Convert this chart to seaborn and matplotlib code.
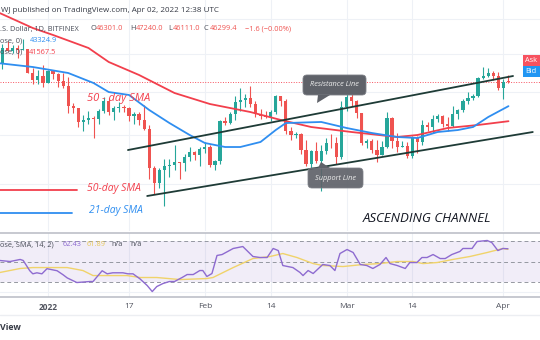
import numpy as np
import pandas as pd
import matplotlib
matplotlib.use("Agg")
import matplotlib.pyplot as plt
import seaborn as sns
from matplotlib.patches import FancyBboxPatch, Polygon, Rectangle

# ---------------- data (day 0 = 2022-01-01; Dec 22 = -10 ... Apr 2 = 91) ----------------
days = list(range(-10, 92))
opens = [48.9, 48.6, 50.8, 50.4, 50.8, 50.6, 50.7, 47.5, 46.5, 47.1,
         46.2, 47.7, 47.3, 46.4, 45.8, 43.4, 43.1, 41.5, 41.7, 41.9,
         41.8, 42.7, 43.9, 42.6, 43.1, 43.2, 43.1, 42.2, 42.4, 41.7,
         40.7, 36.5, 35.1, 36.3, 36.7, 36.9, 37.2, 37.1, 37.7, 38.2,
         37.9, 38.5, 38.7, 36.9, 37.3, 41.6, 41.4, 42.4, 43.8, 44.1,
         44.3, 43.6, 42.4, 42.2, 42.1, 42.6, 44.6, 43.9, 40.5, 40.0,
         40.1, 38.4, 37.0, 38.3, 37.3, 38.3, 39.2, 39.1, 37.7, 43.2,
         44.4, 43.9, 42.5, 39.1, 39.4, 38.4, 37.9, 38.7, 41.9, 39.4,
         38.7, 38.8, 37.8, 39.7, 39.3, 41.1, 40.9, 41.8, 42.2, 41.3,
         41.0, 42.4, 42.9, 44.0, 44.3, 44.5, 46.8, 47.1, 47.4, 47.1,
         45.5, 46.301]
highs = [49.6, 51.4, 51.8, 51.2, 51.3, 52.1, 50.7, 48.1, 47.9, 48.5,
         47.9, 47.9, 47.5, 47.5, 47.0, 43.7, 43.1, 42.3, 42.8, 42.2,
         43.0, 44.4, 44.3, 43.4, 43.8, 43.5, 43.2, 42.6, 42.6, 43.5,
         41.1, 36.8, 36.5, 37.5, 37.5, 38.9, 37.2, 38.0, 38.7, 38.3,
         38.7, 39.3, 38.9, 37.4, 41.7, 42.0, 42.6, 44.5, 45.5, 44.8,
         45.8, 43.9, 43.0, 42.7, 42.9, 44.7, 44.6, 44.2, 40.9, 40.4,
         40.2, 39.5, 38.4, 39.3, 38.9, 39.7, 40.1, 39.8, 44.0, 44.9,
         45.4, 44.1, 42.5, 39.6, 39.6, 39.5, 39.4, 42.6, 42.0, 40.2,
         39.4, 39.3, 39.9, 39.9, 41.7, 41.5, 42.3, 42.4, 42.3, 42.0,
         43.4, 43.0, 44.2, 45.1, 44.8, 46.9, 48.2, 48.1, 47.7, 47.6,
         46.7, 47.24]
lows = [48.4, 48.0, 50.4, 50.2, 49.5, 50.5, 47.4, 46.1, 46.0, 45.7,
        46.2, 46.7, 45.7, 45.5, 42.5, 42.5, 40.9, 40.5, 41.2, 39.7,
        41.3, 42.5, 42.3, 41.7, 42.6, 42.6, 41.6, 41.3, 41.1, 40.6,
        35.5, 34.0, 34.6, 32.95, 35.7, 36.3, 35.5, 36.2, 37.3, 37.4,
        36.7, 38.1, 36.6, 36.3, 37.0, 41.1, 41.2, 41.7, 42.7, 43.2,
        43.2, 42.0, 41.8, 41.9, 41.6, 42.4, 43.3, 40.1, 39.5, 39.7,
        38.0, 36.8, 36.4, 37.1, 34.3, 38.0, 38.6, 37.0, 37.5, 42.8,
        43.4, 41.9, 38.9, 38.6, 38.1, 37.2, 37.9, 38.6, 38.6, 38.2,
        38.7, 37.6, 37.6, 38.1, 38.9, 40.5, 40.2, 41.5, 40.9, 40.5,
        40.9, 41.8, 42.6, 43.6, 44.1, 44.4, 46.7, 46.9, 46.6, 45.3,
        44.2, 46.111]
closes = [48.6, 50.8, 50.4, 50.8, 50.6, 50.7, 47.5, 46.5, 47.1, 46.2,
          47.7, 47.3, 46.4, 45.8, 43.4, 43.1, 41.5, 41.7, 41.9, 41.8,
          42.7, 43.9, 42.6, 43.1, 43.2, 43.1, 42.2, 42.4, 41.7, 40.7,
          36.5, 35.1, 36.3, 36.7, 36.9, 37.2, 37.1, 37.7, 38.2, 37.9,
          38.5, 38.7, 36.9, 37.3, 41.6, 41.4, 42.4, 43.8, 44.1, 44.3,
          43.6, 42.4, 42.2, 42.1, 42.6, 44.6, 43.9, 40.5, 40.0, 40.1,
          38.4, 37.0, 38.3, 37.3, 38.3, 39.2, 39.1, 37.7, 43.2, 44.4,
          43.9, 42.5, 39.1, 39.4, 38.4, 37.9, 38.7, 41.9, 39.4, 38.7,
          38.8, 37.8, 39.7, 39.3, 41.1, 40.9, 41.8, 42.2, 41.3, 41.0,
          42.4, 42.9, 44.0, 44.3, 44.5, 46.8, 47.1, 47.4, 47.1, 45.5,
          46.3, 46.2994]

sma50_days = [-10, -3, 1, 8, 12, 18, 25, 32, 40, 46, 52, 60, 69, 73, 79, 85, 91]
sma50_vals = [56130, 53710, 52690, 50840, 48920, 47200, 44920, 43580, 42630,
              41710, 40910, 40350, 39800, 40020, 40800, 41140, 41567.5]
sma21_days = [-10, -3, 4, 9, 12, 16, 20, 24, 28, 31, 35, 38, 42, 45, 47, 54,
              59, 64, 69, 73, 77, 81, 84, 87, 91]
sma21_vals = [48780, 48250, 47460, 46170, 45040, 44680, 42870, 41360, 40020,
              39150, 38720, 38720, 39260, 40570, 41360, 41480, 40800, 40240,
              39800, 39690, 40350, 40570, 40910, 42050, 43324.9]

res_days = [15.8, 91.9]
res_prices = [38400, 47070]
sup_days = [19.6, 95.8]
sup_prices = [33840, 40350]
last_price = 46299.4

rsi_days = [-9.5, -7.5, -5.5, -4.9, -3.6, -3.0, -2.2, -1.2, -0.2, 1.8, 3.0, 3.8,
            5.7, 8.3, 8.9, 10.7, 11.7, 12.8, 14.8, 15.8, 16.8, 18.2, 19.6, 20.6,
            21.5, 22.7, 24.0, 25.0, 26.5, 27.5, 28.7, 30.0, 30.6, 31.4, 32.4,
            33.4, 34.4, 36.6, 38.5, 40.5, 41.9, 43.3, 44.5, 45.5, 46.4, 48.4,
            49.8, 50.4, 51.4, 52.4, 54.3, 55.7, 56.7, 57.7, 59.1, 60.3, 61.7,
            63.0, 64.2, 65.6, 66.8, 67.6, 69.0, 70.6, 71.5, 72.9, 73.9, 74.9,
            76.1, 77.5, 78.5, 79.8, 81.4, 82.0, 83.8, 84.8, 86.8, 87.7, 88.9,
            89.9, 90.9]
rsi_vals = [51, 50, 52, 51, 41, 38, 39, 38, 43, 41, 37, 34,
            29.5, 30.5, 30.5, 41, 38, 39, 39, 38, 38, 33, 26.6, 20.7,
            25.6, 28.5, 30.5, 30.5, 34.4, 37.3, 37.3, 41.2, 41.2, 35.4, 38.3,
            55.9, 56.8, 62.7, 64.6, 54.9, 53.9, 53.9, 62.7, 60.7, 46.1, 44.1,
            39.3, 36.3, 41.2, 38.3, 47.1, 46.1, 41.2, 57.8, 61.7, 58.8, 47.1,
            46.1, 43.2, 47.1, 53.9, 48.0, 46.1, 43.2, 49.0, 49.0, 53.9, 53.9,
            56.8, 52.9, 52.9, 56.8, 59.8, 62.7, 62.7, 69.5, 70.5, 68.5, 60.7,
            62.7, 62.43]
rsi_sma_days = [-9.5, -5.5, -3.0, 0.4, 3.8, 6.9, 8.9, 11.7, 15.6, 18.2, 21.5,
                26.1, 31.4, 32.6, 36.6, 40.5, 43.9, 46.4, 49.2, 52.4, 54.3, 58.3,
                62.3, 65.6, 69.0, 72.1, 74.1, 76.9, 80.0, 83.4, 86.8, 89.9, 90.9]
rsi_sma_vals = [39.3, 43.2, 44.1, 44.1, 44.1, 41.2, 36.3, 36.3, 36.3, 34.4, 34.4,
                32.4, 33.4, 34.4, 44.1, 52.9, 54.9, 57.8, 53.9, 48.0, 46.1, 45.1,
                47.1, 48.0, 50.0, 50.0, 48.0, 49.0, 52.0, 54.9, 58.8, 62.7, 61.89]

tick_days = [0, 16, 31, 44, 59, 72, 90]
tick_labels = ["2022", "17", "Feb", "14", "Mar", "14", "Apr"]
grid_prices = [55000, 50000, 45000, 40000, 35000]

# ---------------- styling ----------------
sns.set_theme(style="white")
plt.rcParams["font.family"] = ["Open Sans", "DejaVu Sans"]

GREEN = "#26a69a"
RED = "#ef5350"
SMA_RED = "#f23f4c"
SMA_BLUE = "#2f8ef0"
CHAN = "#1e3b36"
GRID = "#eef1f6"

W, H = 540, 340
fig = plt.figure(figsize=(5.4, 3.4), dpi=100)
fig.patch.set_facecolor("white")


def rect(x0, y0, x1, y1):
    return [x0 / W, 1 - y1 / H, (x1 - x0) / W, (y1 - y0) / H]


XLIM = (-9.486, 97.23)

# ---------------- main price pane ----------------
ax = fig.add_axes(rect(0, 0, 540, 231))
ax.set_yscale("log")
ax.set_xlim(*XLIM)
ax.set_ylim(30734, 58013)
ax.set_xticks(tick_days)
ax.set_yticks(grid_prices)
ax.yaxis.set_minor_locator(matplotlib.ticker.NullLocator())
ax.tick_params(length=0, labelleft=False, labelbottom=False)
ax.grid(True, color=GRID, lw=0.8)
for s in ax.spines.values():
    s.set_visible(False)

o = np.array(opens) * 1000
h = np.array(highs) * 1000
l = np.array(lows) * 1000
c = np.array(closes) * 1000
d = np.array(days)
cols = np.where(c >= o, GREEN, RED)
ax.vlines(d, l, h, colors=cols, lw=0.8, zorder=3)
bottoms = np.minimum(o, c)
heights = np.maximum(np.abs(c - o), bottoms * 0.002)
ax.bar(d, heights, bottom=bottoms, width=0.64, color=cols, lw=0, zorder=3)

ax.axhline(last_price, color="#f7525f", lw=0.7, ls=(0, (1, 1.6)), zorder=2)

sns.lineplot(x=sma50_days, y=sma50_vals, ax=ax, color=SMA_RED, lw=1.3, sort=False, zorder=4)
sns.lineplot(x=sma21_days, y=sma21_vals, ax=ax, color=SMA_BLUE, lw=1.3, sort=False, zorder=4)
sns.lineplot(x=res_days, y=res_prices, ax=ax, color=CHAN, lw=1.3, sort=False, zorder=5)
sns.lineplot(x=sup_days, y=sup_prices, ax=ax, color=CHAN, lw=1.3, sort=False, zorder=5)
ax.set_xlabel("")
ax.set_ylabel("")

# ---------------- RSI pane ----------------
ar = fig.add_axes(rect(0, 233, 540, 297))
ar.set_xlim(*XLIM)
ar.set_ylim(15.4, 77.8)
ar.axhspan(30, 70, color="#7e57c2", alpha=0.1, lw=0)
ar.axhline(20, color=GRID, lw=0.8)
for lev in (70, 50, 30):
    ar.axhline(lev, color="#9598a1", lw=0.7, ls=(0, (4, 3)))
ar.set_xticks(tick_days)
ar.set_xticklabels(tick_labels)
ar.set_yticks([])
ar.tick_params(axis="x", length=0, pad=4, labelsize=6, labelcolor="#50535e")
ar.get_xticklabels()[0].set_fontweight("bold")
ar.grid(True, axis="x", color=GRID, lw=0.8)
for side in ("left", "right"):
    ar.spines[side].set_visible(False)
for side in ("top", "bottom"):
    ar.spines[side].set_color("#b8bbc4")
    ar.spines[side].set_linewidth(1.1)
sns.lineplot(x=rsi_sma_days, y=rsi_sma_vals, ax=ar, color="#f0d36a", lw=1.0, sort=False)
sns.lineplot(x=rsi_days, y=rsi_vals, ax=ar, color="#8e6bd0", lw=1.0, sort=False)
ar.set_xlabel("")
ar.set_ylabel("")

# ---------------- overlay (pixel coordinates) ----------------
ov = fig.add_axes([0, 0, 1, 1])
ov.set_xlim(0, W)
ov.set_ylim(H, 0)
ov.axis("off")

GRAY = "#4a4e59"
FS = 5.3
ov.text(1, 10, "WJ published on TradingView.com, Apr 02, 2022 12:38 UTC",
        fontsize=5.8, color="#363a45", va="center", ha="left")

row2 = [(0, ".S. Dollar, 1D, BITFINEX", GRAY), (90.5, "O", GRAY), (96, "46301.0", RED),
        (130, "H", GRAY), (135.5, "47240.0", RED), (168.5, "L", GRAY), (173, "46111.0", RED),
        (204, "C", GRAY), (209.5, "46299.4", RED), (245, "\u22121.6 (\u22120.00%)", RED)]
for x, t, col in row2:
    ov.text(x, 29, t, fontsize=FS, color=col, va="center", ha="left")
ov.text(0, 41, "ose, 0)", fontsize=FS, color=GRAY, va="center", ha="left")
ov.text(30, 41, "43324.9", fontsize=FS, color=SMA_BLUE, va="center", ha="left")
ov.text(0, 52, "ose, 0)", fontsize=FS, color=GRAY, va="center", ha="left")
ov.text(29, 52, "41567.5", fontsize=FS, color=SMA_RED, va="center", ha="left")

# ask / bid
ov.add_patch(Rectangle((523, 55), 17, 11, color="#f7525f", lw=0))
ov.add_patch(Rectangle((523, 66), 17, 11, color="#2196f3", lw=0))
ov.text(525, 60.5, "Ask", fontsize=FS, color="white", va="center", ha="left")
ov.text(525, 71.5, "Bid", fontsize=FS, color="white", va="center", ha="left")

# annotations
ov.text(87, 98, "50 - day SMA", fontsize=8, color=SMA_RED, style="italic", va="center", ha="left")
ov.plot([0, 77], [190, 190], color=SMA_RED, lw=1.3)
ov.text(87, 188, "50-day SMA", fontsize=7.5, color=SMA_RED, style="italic", va="center", ha="left")
ov.plot([0, 72], [212.5, 212.5], color=SMA_BLUE, lw=1.3)
ov.text(89, 210, "21-day SMA", fontsize=7.5, color=SMA_BLUE, style="italic", va="center", ha="left")
ov.text(427, 219, "ASCENDING CHANNEL", fontsize=9.5, color="#131722", style="italic",
        va="center", ha="center")

BOX = "#5f6269"
ov.add_patch(FancyBboxPatch((303, 75), 63, 20, boxstyle="round,pad=0,rounding_size=4",
                            fc=BOX, ec="#7d8087", lw=0.6, zorder=5))
ov.add_patch(Polygon([[318, 95], [330, 95], [317, 103]], closed=True, fc=BOX, ec="none", zorder=5))
ov.text(334.5, 85, "Resistance Line", fontsize=5.3, color="#eeeeee", style="italic",
        va="center", ha="center", zorder=6)
ov.add_patch(FancyBboxPatch((308, 168), 55, 20, boxstyle="round,pad=0,rounding_size=4",
                            fc=BOX, ec="#7d8087", lw=0.6, zorder=5, alpha=0.92))
ov.add_patch(Polygon([[318, 168], [330, 168], [321, 162]], closed=True, fc=BOX, ec="none", zorder=5))
ov.text(335.5, 178.5, "Support Line", fontsize=5.3, color="#eeeeee", style="italic",
        va="center", ha="center", zorder=6)

# RSI legend
ov.text(0, 245, "ose, SMA, 14, 2)", fontsize=FS, color=GRAY, va="center", ha="left")
ov.text(63, 245, "62.43", fontsize=FS, color="#8e6bd0", va="center", ha="left")
ov.text(87, 245, "61.89", fontsize=FS, color="#e8c95a", va="center", ha="left")
ov.text(111, 245, "n/a", fontsize=FS, color=GRAY, va="center", ha="left")
ov.text(130, 245, "n/a", fontsize=FS, color=GRAY, va="center", ha="left")

# bottom strip
ov.plot([0, 540], [315, 315], color="#eceef2", lw=1)
ov.text(0, 328, "View", fontsize=6.3, color="#363a45", fontweight="bold", va="center", ha="left")

fig.savefig("out.png", dpi=100)
